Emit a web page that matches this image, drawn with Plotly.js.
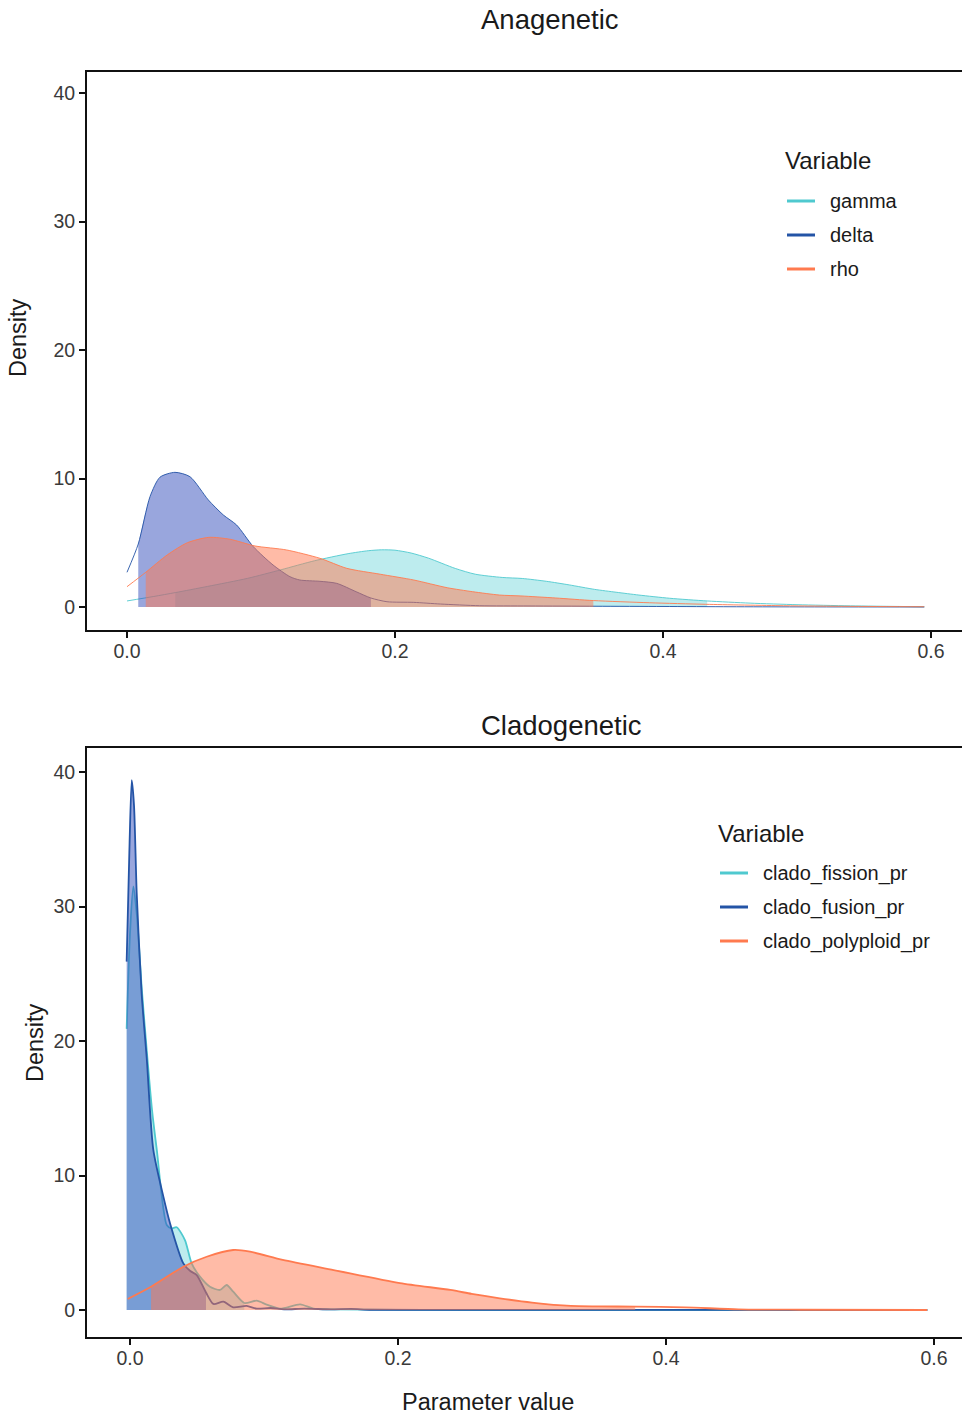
<!DOCTYPE html>
<html><head><meta charset="utf-8">
<script src="https://cdn.plot.ly/plotly-3.0.1.min.js"></script>
<style>html,body{margin:0;padding:0;background:#fff;} #chart{width:962px;height:1417px;}</style>
</head><body><div id="chart"></div>
<script>
// ---------- Data ----------
const panelTitles = ["Anagenetic", "Cladogenetic"];
const xTickVals = [0, 0.2, 0.4, 0.6];
const xTickText = ["0.0", "0.2", "0.4", "0.6"];
const yTickVals = [0, 10, 20, 30, 40];
const yTickText = ["0", "10", "20", "30", "40"];
const xLabel = "Parameter value";
const yLabel = "Density";
const legendTitle = "Variable";

// Anagenetic panel
const anaNames = ["gamma", "delta", "rho"];
const gammaX = [0, 0.02, 0.036, 0.06, 0.09, 0.115, 0.14, 0.165, 0.18, 0.19, 0.2, 0.212, 0.225, 0.245, 0.26, 0.28, 0.295, 0.313, 0.33, 0.349, 0.365, 0.382, 0.405, 0.433, 0.465, 0.5, 0.54, 0.595];
const gammaY = [0.47, 0.82, 1.12, 1.6, 2.23, 2.9, 3.6, 4.15, 4.38, 4.45, 4.42, 4.2, 3.8, 3.0, 2.55, 2.3, 2.22, 2.0, 1.72, 1.37, 1.15, 0.93, 0.68, 0.47, 0.3, 0.18, 0.09, 0.02];
const deltaX = [0, 0.0084, 0.0172, 0.0246, 0.0358, 0.047, 0.0607, 0.0719, 0.0818, 0.0943, 0.109, 0.1216, 0.129, 0.144, 0.1565, 0.171, 0.182, 0.194, 0.214, 0.234, 0.263, 0.3, 0.35, 0.4, 0.45, 0.5, 0.595];
const deltaY = [2.7, 4.9, 8.6, 10.1, 10.48, 10.14, 8.33, 7.16, 6.38, 4.69, 3.27, 2.36, 2.1, 2.0, 1.84, 1.19, 0.7, 0.41, 0.36, 0.23, 0.1, 0.08, 0.06, 0.04, 0.02, 0.01, 0.0];
const rhoX = [0, 0.014, 0.03, 0.045, 0.061, 0.077, 0.0955, 0.119, 0.144, 0.164, 0.189, 0.214, 0.239, 0.258, 0.278, 0.294, 0.32, 0.348, 0.39, 0.432, 0.49, 0.54, 0.595];
const rhoY = [1.58, 2.7, 4.05, 5.0, 5.42, 5.27, 4.75, 4.44, 3.79, 3.01, 2.55, 2.1, 1.5, 1.19, 0.93, 0.86, 0.7, 0.5, 0.33, 0.21, 0.1, 0.05, 0.02];
const anaLo = [0.036, 0.0084, 0.014];
const anaHi = [0.433, 0.182, 0.348];

// Cladogenetic panel
const cladoNames = ["clado_fission_pr", "clado_fusion_pr", "clado_polyploid_pr"];
const fissionX = [-0.0025, 0, 0.0025, 0.005, 0.0087, 0.0125, 0.0165, 0.02, 0.0274, 0.031, 0.0348, 0.041, 0.046, 0.0522, 0.0597, 0.0672, 0.0721, 0.077, 0.0853, 0.0945, 0.102, 0.112, 0.127, 0.137, 0.15, 0.2, 0.3, 0.4, 0.595];
const fissionY = [20.9, 28, 31.5, 29.5, 24, 19.3, 14.8, 11.9, 6.32, 6.07, 6.15, 5.2, 3.47, 2.48, 1.73, 1.49, 1.86, 1.36, 0.52, 0.69, 0.4, 0.1, 0.42, 0.1, 0.05, 0.01, 0, 0, 0];
const fusionX = [-0.0025, -0.0005, 0.0013, 0.003, 0.005, 0.0087, 0.0125, 0.0174, 0.0249, 0.0299, 0.0398, 0.045, 0.0498, 0.0567, 0.0622, 0.0697, 0.077, 0.087, 0.0946, 0.105, 0.115, 0.13, 0.15, 0.165, 0.18, 0.25, 0.4, 0.595];
const fusionY = [25.9, 34, 39.4, 37.5, 31, 23.5, 18.7, 11.9, 8.43, 6.44, 3.47, 2.9, 2.6, 1.3, 0.45, 0.62, 0.2, 0.3, 0.1, 0.15, 0.05, 0.1, 0.05, 0.08, 0.02, 0.01, 0.005, 0];
const polyX = [-0.0017, 0.0157, 0.0398, 0.0572, 0.077, 0.0896, 0.114, 0.152, 0.2015, 0.239, 0.255, 0.276, 0.3, 0.329, 0.35, 0.377, 0.414, 0.454, 0.5, 0.595];
const polyY = [0.82, 1.73, 3.22, 3.96, 4.46, 4.34, 3.72, 2.97, 2.0, 1.49, 1.2, 0.87, 0.55, 0.3, 0.27, 0.25, 0.2, 0.05, 0.02, 0.0];
const cladoLo = [-0.0025, -0.0025, 0.0157];
const cladoHi = [0.0853, 0.0567, 0.377];

// ---------- Styles ----------
const lineColors = ["#4FC9CF", "#2454A6", "#FF7A4F"];
const fillColors = ["rgba(72,201,209,0.36)", "rgba(51,77,187,0.5)", "rgba(255,120,80,0.5)"];
const FONT = "Liberation Sans, Arial, Helvetica, sans-serif";
const W = 962, H = 1417;
const px = v => v / W, py = v => 1 - v / H;

function subset(xs, ys, lo, hi) {
  const ox = [], oy = [];
  xs.forEach((x, i) => { if (x >= lo - 1e-9 && x <= hi + 1e-9) { ox.push(x); oy.push(ys[i]); } });
  return [ox, oy];
}

const traces = [];
function addPanel(series, names, lo, hi, xa, ya, lw) {
  series.forEach((s, i) => {
    const [fx, fy] = subset(s[0], s[1], lo[i], hi[i]);
    traces.push({ x: fx, y: fy, xaxis: xa, yaxis: ya, mode: "lines", fill: "tozeroy",
      fillcolor: fillColors[i], line: { width: 0, shape: "spline", smoothing: 0.7 },
      hoverinfo: "skip", showlegend: false });
    traces.push({ x: s[0], y: s[1], xaxis: xa, yaxis: ya, mode: "lines", name: names[i],
      line: { color: lineColors[i], width: lw, shape: "spline", smoothing: 0.7 }, showlegend: false });
  });
}
addPanel([[gammaX, gammaY], [deltaX, deltaY], [rhoX, rhoY]], anaNames, anaLo, anaHi, "x", "y", 0.9);
addPanel([[fissionX, fissionY], [fusionX, fusionY], [polyX, polyY]], cladoNames, cladoLo, cladoHi, "x2", "y2", 1.8);

const axisCommon = {
  showgrid: false, zeroline: false, showline: true, linecolor: "#111", linewidth: 2,
  ticks: "outside", ticklen: 6, tickwidth: 2, tickcolor: "#111",
  tickfont: { family: FONT, size: 19.5, color: "#3a3a3a" }, fixedrange: true
};
const xaxisBase = Object.assign({}, axisCommon, { tickvals: xTickVals, ticktext: xTickText, mirror: true, ticklabelstandoff: -3 });
const yaxisBase = Object.assign({}, axisCommon, { tickvals: yTickVals, ticktext: yTickText, ticklabelstandoff: 0 });

const annotations = [];
const shapes = [];
function txt(text, x, y, size, opts) {
  annotations.push(Object.assign({ text: text, xref: "paper", yref: "paper", x: px(x), y: py(y),
    showarrow: false, font: { family: FONT, size: size, color: "#1a1a1a" },
    xanchor: "center", yanchor: "middle" }, opts || {}));
}
txt(panelTitles[0], 550, 19, 27.5);
txt(panelTitles[1], 561, 725, 27.5);
txt(yLabel, 18, 338, 23.5, { textangle: -90 });
txt(yLabel, 35, 1043, 23.5, { textangle: -90 });
txt(xLabel, 488, 1402, 23.5);

function legend(names, left, titleY, firstY) {
  txt(legendTitle, left - 2, titleY, 24, { xanchor: "left" });
  names.forEach((n, i) => {
    const yy = firstY + i * 34;
    shapes.push({ type: "line", xref: "paper", yref: "paper", x0: px(left + 2), x1: px(left + 30),
      y0: py(yy), y1: py(yy), line: { color: lineColors[i], width: 3 } });
    txt(n, left + 43, yy, 20, { xanchor: "left" });
  });
}
legend(anaNames, 785, 161, 201);
legend(cladoNames, 718, 833, 873);

const layout = {
  width: W, height: H, margin: { l: 0, r: 0, t: 0, b: 0 }, showlegend: false,
  paper_bgcolor: "#fff", plot_bgcolor: "#fff",
  xaxis: Object.assign({}, xaxisBase, { domain: [87 / W, 1], range: [-0.029851, 0.62314], anchor: "y" }),
  yaxis: Object.assign({}, yaxisBase, { domain: [1 - 630 / H, 1 - 72 / H], range: [-1.79, 41.634], anchor: "x" }),
  xaxis2: Object.assign({}, xaxisBase, { domain: [87 / W, 1], range: [-0.03209, 0.6209], anchor: "y2" }),
  yaxis2: Object.assign({}, yaxisBase, { domain: [1 - 1337 / H, 1 - 748 / H], range: [-2.007, 41.784], anchor: "x2" }),
  annotations: annotations, shapes: shapes
};
Plotly.newPlot("chart", traces, layout, { displayModeBar: false, staticPlot: true });
</script></body></html>
